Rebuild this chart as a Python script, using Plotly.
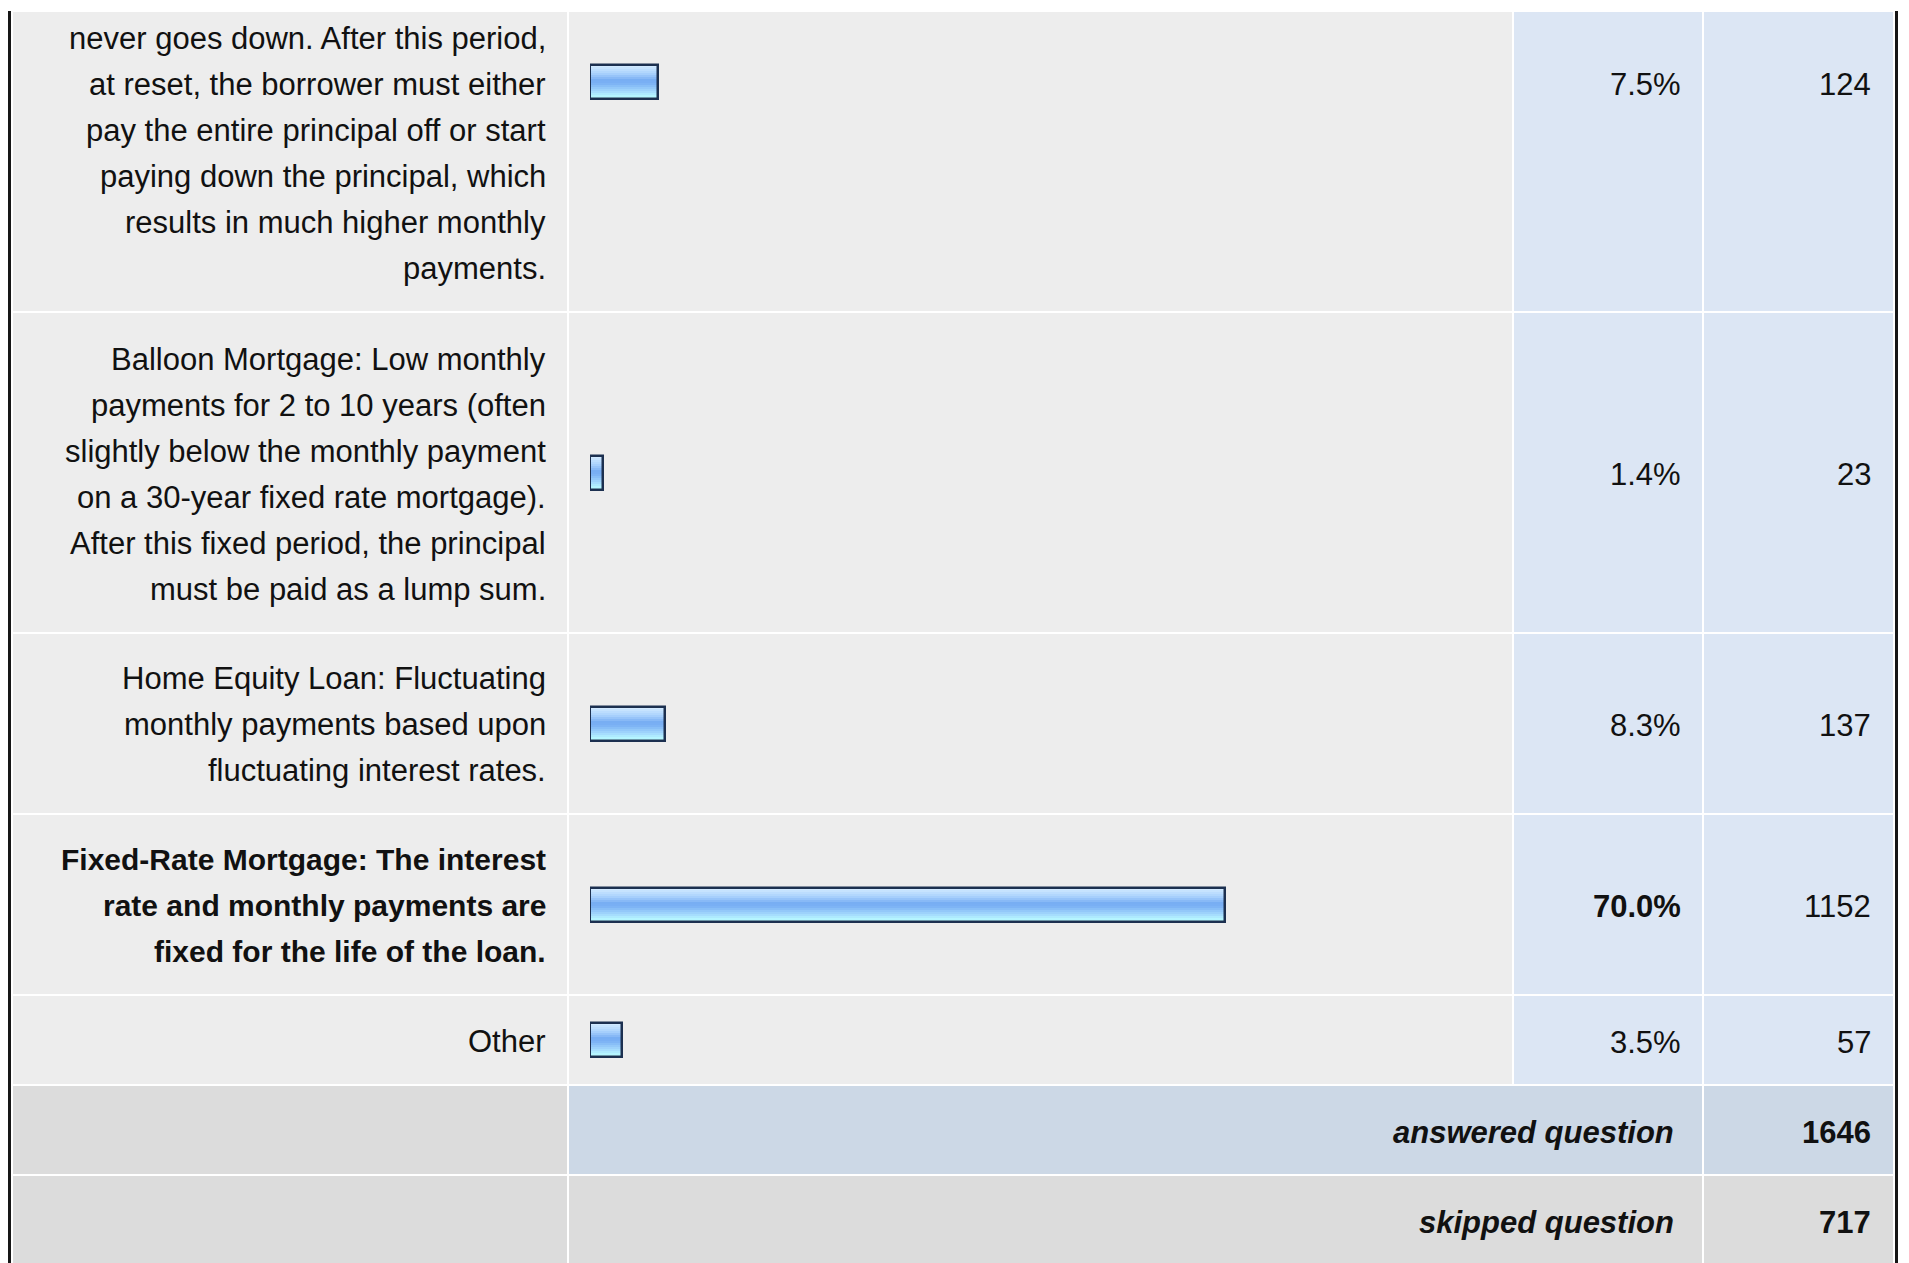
import plotly.graph_objects as go

# ---------------- data ----------------
label_lines = [
    ["never goes down. After this period,",
     "at reset, the borrower must either",
     "pay the entire principal off or start",
     "paying down the principal, which",
     "results in much higher monthly",
     "payments."],
    ["Balloon Mortgage: Low monthly",
     "payments for 2 to 10 years (often",
     "slightly below the monthly payment",
     "on a 30-year fixed rate mortgage).",
     "After this fixed period, the principal",
     "must be paid as a lump sum."],
    ["Home Equity Loan: Fluctuating",
     "monthly payments based upon",
     "fluctuating interest rates."],
    ["Fixed-Rate Mortgage: The interest",
     "rate and monthly payments are",
     "fixed for the life of the loan."],
    ["Other"],
]
percents = [7.5, 1.4, 8.3, 70.0, 3.5]
counts = [124, 23, 137, 1152, 57]
answered_label = "answered question"
answered_count = 1646
skipped_label = "skipped question"
skipped_count = 717

# ---------------- layout geometry (pixels) ----------------
W, H = 1909, 1263
FONT = "Liberation Sans, Arial, Helvetica, sans-serif"
FS = 31
FS_BOLD = 30
LINE = 46
row_edges = [-147, 311, 632, 813, 994, 1084]   # data rows (first row cropped at top)
foot_edges = [1084, 1174, 1265]
TOP = 12
GAP = 2
col_x = [13, 567, 569, 1512, 1514, 1702, 1704, 1893]
BAR_X0, BAR_X1 = 590, 1497
BAR_H = 34

C_CELL = "#EDEDED"
C_NUM = "#DCE6F4"
C_FOOT = "#DCDCDC"
C_ANS = "#CCD8E6"
C_TXT = "#111111"

shapes = []

def rect(x0, y0, x1, y1, color):
    shapes.append(dict(type="rect", xref="x", yref="y", x0=x0, x1=x1, y0=y0, y1=y1,
                       fillcolor=color, line=dict(width=0), layer="below"))

# black side borders
rect(8, 11, 11, H + 5, "#161616")
rect(1895, 11, 1898, H + 5, "#161616")

annotations = []

def text(x, y, s, bold=False, italic=False, size=FS):
    t = s
    if bold:
        t = "<b>" + t + "</b>"
    if italic:
        t = "<i>" + t + "</i>"
    annotations.append(dict(x=x, y=y, xref="x", yref="y", text=t, showarrow=False,
                            xanchor="right", yanchor="middle",
                            font=dict(family=FONT, size=size, color=C_TXT)))

imax = percents.index(max(percents))
centers = []
for i in range(len(percents)):
    top = row_edges[i] + (GAP if i > 0 else 0)
    bot = row_edges[i + 1]
    vis_top = max(top, TOP)
    rect(col_x[0], vis_top, col_x[1], bot, C_CELL)
    rect(col_x[2], vis_top, col_x[3], bot, C_CELL)
    rect(col_x[4], vis_top, col_x[5], bot, C_NUM)
    rect(col_x[6], vis_top, col_x[7], bot, C_NUM)
    c = (top + bot) / 2
    centers.append(c)
    lines = label_lines[i]
    n = len(lines)
    for j, ln in enumerate(lines):
        y = bot - 42.5 - (n - 1 - j) * LINE
        text(548, y, ln, bold=(i == imax), size=(FS_BOLD if i == imax else FS))
    text(1683, c + 2, f"{percents[i]:.1f}%", bold=(i == imax))
    text(1873, c + 2, f"{counts[i]}")

# footer rows
t0 = foot_edges[0] + GAP
b0 = foot_edges[1]
rect(col_x[0], t0, col_x[1], b0, C_FOOT)
rect(col_x[2], t0, col_x[5], b0, C_ANS)
rect(col_x[6], t0, col_x[7], b0, C_ANS)
text(1676, (t0 + b0) / 2 + 2, answered_label, bold=True, italic=True)
text(1873, (t0 + b0) / 2 + 2, str(answered_count), bold=True)

t1 = foot_edges[1] + GAP
b1 = foot_edges[2]
rect(col_x[0], t1, col_x[1], b1, C_FOOT)
rect(col_x[2], t1, col_x[5], b1, C_FOOT)
rect(col_x[6], t1, col_x[7], b1, C_FOOT)
text(1676, (t1 + b1) / 2 + 2, skipped_label, bold=True, italic=True)
text(1873, (t1 + b1) / 2 + 2, str(skipped_count), bold=True)

# ---------------- bars with vertical gradient ----------------
stops = [
    (0.00, (214, 236, 255)),
    (0.25, (170, 210, 253)),
    (0.45, (118, 172, 243)),
    (0.55, (124, 178, 245)),
    (0.75, (160, 212, 252)),
    (0.90, (180, 244, 255)),
    (1.00, (192, 255, 255)),
]

def grad(t):
    for k in range(len(stops) - 1):
        a, ca = stops[k]
        b, cb = stops[k + 1]
        if a <= t <= b:
            f = (t - a) / (b - a) if b > a else 0
            r = [round(ca[m] + (cb[m] - ca[m]) * f) for m in range(3)]
            return f"rgb({r[0]},{r[1]},{r[2]})"
    return "rgb(192,255,255)"

fig = go.Figure()
N = 17
sw = BAR_H / N
for k in range(N):
    fig.add_trace(go.Bar(
        x=percents, y=centers, orientation="h", xaxis="x2", yaxis="y",
        width=sw + 0.4, offset=-BAR_H / 2 + k * sw,
        marker=dict(color=grad((k + 0.5) / N), line=dict(width=0)),
        hoverinfo="skip", showlegend=False))
fig.add_trace(go.Bar(
    x=percents, y=centers, orientation="h", xaxis="x2", yaxis="y",
    width=BAR_H, offset=-BAR_H / 2,
    marker=dict(color="rgba(0,0,0,0)", line=dict(width=2.5, color="#1C3050")),
    hovertemplate="%{x:.1f}%<extra></extra>", showlegend=False))

fig.update_layout(
    width=W, height=H, autosize=False,
    margin=dict(l=0, r=0, t=0, b=0, pad=0),
    paper_bgcolor="white", plot_bgcolor="rgba(0,0,0,0)",
    barmode="overlay", bargap=0,
    xaxis=dict(range=[0, W], visible=False, fixedrange=True, domain=[0, 1]),
    xaxis2=dict(range=[0, 100], visible=False, fixedrange=True,
                domain=[BAR_X0 / W, BAR_X1 / W], anchor="y"),
    yaxis=dict(range=[H, 0], visible=False, fixedrange=True, domain=[0, 1]),
    shapes=shapes, annotations=annotations,
    font=dict(family=FONT, size=FS, color=C_TXT),
)
# invisible anchor trace for main axes
fig.add_trace(go.Scatter(x=[0], y=[0], mode="markers", marker=dict(opacity=0),
                         hoverinfo="skip", showlegend=False, xaxis="x", yaxis="y"))

fig.write_html("out.html", config={"displayModeBar": False},
               post_script="document.body.style.margin='0';document.body.style.overflow='hidden';")
